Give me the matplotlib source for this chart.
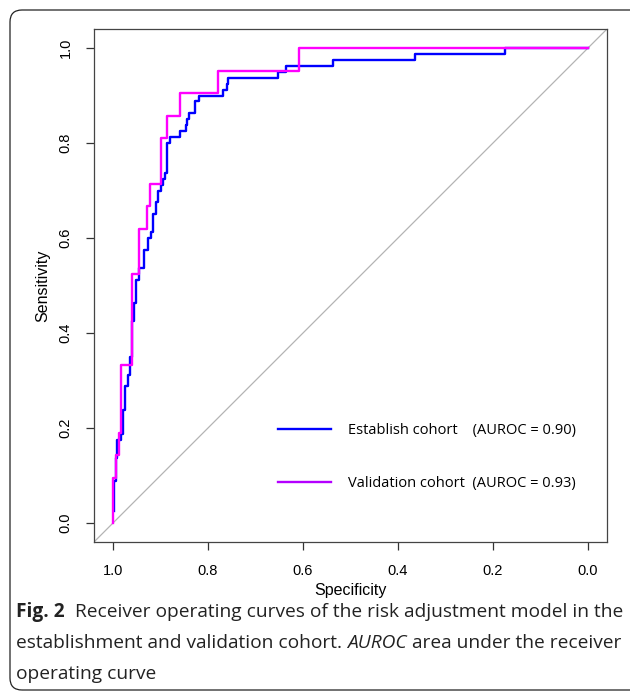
import matplotlib
matplotlib.use("Agg")
import matplotlib.pyplot as plt
from matplotlib.lines import Line2D
from matplotlib.patches import FancyBboxPatch
from matplotlib.transforms import IdentityTransform

# ROC corners: (specificity, sensitivity), drawn as steps
est_spec = [0.998, 0.998, 0.994, 0.991, 0.984, 0.980, 0.975, 0.968, 0.965, 0.961,
            0.955, 0.951, 0.945, 0.935, 0.926, 0.921, 0.916, 0.910, 0.905, 0.899,
            0.894, 0.891, 0.886, 0.881, 0.859, 0.847, 0.845, 0.840, 0.828, 0.818,
            0.768, 0.760, 0.757, 0.653, 0.635, 0.536, 0.365, 0.174, 0.0]
est_sens = [0.025, 0.0875, 0.1375, 0.175, 0.1875, 0.2375, 0.2875, 0.3125, 0.35, 0.425,
            0.4625, 0.5125, 0.5375, 0.575, 0.6, 0.6125, 0.65, 0.675, 0.7, 0.7125,
            0.725, 0.7375, 0.8, 0.8125, 0.825, 0.8375, 0.85, 0.8625, 0.8875, 0.9,
            0.9125, 0.925, 0.9375, 0.95, 0.9625, 0.975, 0.9875, 1.0, 1.0]

val_spec = [1.0, 1.0, 0.994, 0.988, 0.983, 0.959, 0.946, 0.928, 0.923, 0.900,
            0.887, 0.859, 0.780, 0.609, 0.0]
val_sens = [0.0, 0.0952, 0.1429, 0.1905, 0.3333, 0.5238, 0.6190, 0.6667, 0.7143, 0.8095,
            0.8571, 0.9048, 0.9524, 1.0, 1.0]

labels = ["Establish cohort    (AUROC = 0.90)", "Validation cohort  (AUROC = 0.93)"]
ticks = [0.0, 0.2, 0.4, 0.6, 0.8, 1.0]

W, H = 630, 697
fig = plt.figure(figsize=(W / 100, H / 100), dpi=100)
ax = fig.add_axes([94 / W, 1 - 542 / H, 513 / W, 513 / H])

ax.axline((1, 0), (0, 1), color="#b4b4b4", lw=0.9, zorder=1)
ax.plot(est_spec, est_sens, drawstyle="steps-post", color="#0000ff", lw=1.7, zorder=2)
ax.plot(val_spec, val_sens, drawstyle="steps-post", color="#ff00ff", lw=1.7, zorder=3)

ax.set_xlim(1.04, -0.04)
ax.set_ylim(-0.04, 1.04)
ax.set_xticks(ticks)
ax.set_yticks(ticks)
ax.set_xticklabels(["%.1f" % t for t in ticks], family="Liberation Sans", fontsize=10.5)
ax.set_yticklabels(["%.1f" % t for t in ticks], family="Liberation Sans", fontsize=10.5,
                   rotation=90, va="center")
ax.tick_params(direction="out", length=5.5, width=0.9, color="#333333", pad=10)
for s in ax.spines.values():
    s.set_color("#444444")
    s.set_linewidth(0.9)
ax.set_xlabel("Specificity", family="Liberation Sans", fontsize=11.5, labelpad=4)
ax.set_ylabel("Sensitivity", family="Liberation Sans", fontsize=11.5, labelpad=6)

handles = [Line2D([], [], color="#0000ff", lw=1.7), Line2D([], [], color="#b400ff", lw=1.7)]
leg = ax.legend(handles, labels, loc="center left", bbox_to_anchor=(0.359, 0.166),
                frameon=False, prop={"family": "Open Sans", "size": 10.5},
                handlelength=3.6, handletextpad=1.2, labelspacing=2.6,
                borderpad=0, borderaxespad=0)

# rounded caption frame
fig.add_artist(FancyBboxPatch((10, 7), 660, 680, boxstyle="round,pad=0,rounding_size=12",
                              transform=IdentityTransform(), fill=False,
                              edgecolor="#222222", lw=0.9))

# caption with mixed bold / italic runs
r = fig.canvas.get_renderer()
cap_font = "Open Sans"


def width(s, size, **kw):
    t = fig.text(0, 0, s, fontsize=size, family=cap_font, **kw)
    w = t.get_window_extent(r).width
    t.remove()
    return w


line1 = [("Fig. 2", {"weight": "bold"}), ("Receiver operating curves of the risk adjustment model in the", {})]
line2 = [("establishment and validation cohort.", {}), ("AUROC", {"style": "italic"}),
         ("area under the receiver", {})]
line3 = [("operating curve", {})]

ref = 10
sp = width("x x", ref) - width("xx", ref)
w1 = width(line1[0][0], ref, weight="bold") + width(line1[1][0], ref) + 2 * sp
size = ref * 606 / w1
sp = sp * size / ref


def put(pieces, y, gaps):
    x = 16
    for (s, kw), g in zip(pieces, gaps):
        t = fig.text(x, H - y, s, fontsize=size, family=cap_font, va="baseline",
                     transform=IdentityTransform(), color="#222222", **kw)
        x += t.get_window_extent(r).width + g * sp


put(line1, 617, [2, 0])
put(line2, 648, [1, 1, 0])
put(line3, 679, [0])

fig.savefig("out.png", dpi=100)
